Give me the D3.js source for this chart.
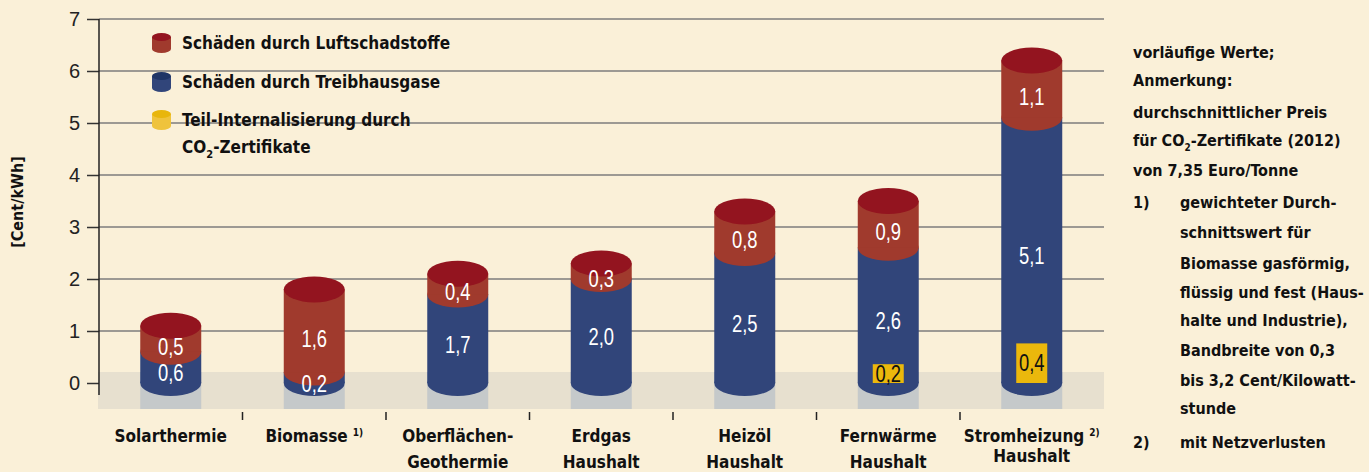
<!DOCTYPE html>
<html>
<head>
<meta charset="utf-8">
<script src="https://cdn.jsdelivr.net/npm/d3@7"></script>
<style>
  body { margin: 0; background: #faf0d8; }
  .bold { font-family: "DejaVu Sans Condensed", "Liberation Sans Narrow", Roboto, sans-serif; font-weight: bold; fill: #111; }
  .num { font-family: "Liberation Sans", Arial, sans-serif; }
</style>
</head>
<body>
<div id="chart"></div>
<script>
var categories = [["Solarthermie"], ["Biomasse"], ["Oberflächen-", "Geothermie"], ["Erdgas", "Haushalt"],
                  ["Heizöl", "Haushalt"], ["Fernwärme", "Haushalt"], ["Stromheizung", "Haushalt"]];
var footnoteMarks = ["", "1)", "", "", "", "", "2)"];
var treibhausgase = [0.6, 0.2, 1.7, 2.0, 2.5, 2.6, 5.1];
var luftschadstoffe = [0.5, 1.6, 0.4, 0.3, 0.8, 0.9, 1.1];
var zertifikate = [null, null, null, null, null, 0.2, 0.4];
var yTicks = [0, 1, 2, 3, 4, 5, 6, 7];
var legendItems = ["Schäden durch Luftschadstoffe", "Schäden durch Treibhausgase", "Teil-Internalisierung durch"];
var notes = ["vorläufige Werte;", "Anmerkung:", "durchschnittlicher Preis", "für CO|2|-Zertifikate (2012)",
             "von 7,35 Euro/Tonne"];
var footnote1 = ["gewichteter Durch-", "schnittswert für", "Biomasse gasförmig,", "flüssig und fest (Haus-",
                 "halte und Industrie),", "Bandbreite von 0,3", "bis 3,2 Cent/Kilowatt-", "stunde"];
var footnote2 = ["mit Netzverlusten"];

var w = 1369, h = 472;
var red = "#a03a2d", redTop = "#93141f", blue = "#31457a", blueTop = "#1f3566", yellow = "#ebb80c";

var svg = d3.select("#chart").append("svg").attr("width", w).attr("height", h);

var names = categories.map(function (d) { return d.join(" "); });
var x = d3.scaleBand().domain(names).range([99, 1103.5]).paddingInner(0.575).paddingOuter(0.2875);
var y = d3.scaleLinear().domain([0, 7]).range([383, 19]);
var ry = 13;
var fmt = function (v) { return d3.format(".1f")(v).replace(".", ","); };

// gridlines
svg.selectAll(".grid").data(yTicks.slice(1)).enter().append("line")
  .attr("x1", 99).attr("x2", 1104)
  .attr("y1", function (d) { return y(d); }).attr("y2", function (d) { return y(d); })
  .attr("stroke", "#7c7c7c").attr("stroke-width", 1.5);

// shaded band below zero
svg.append("rect").attr("x", 98).attr("y", y(0) - 11).attr("width", 1006).attr("height", 37).attr("fill", "#e7e0cf");

// y axis
var yAxis = d3.axisLeft(y).tickValues(yTicks).tickSize(12).tickPadding(7).tickFormat(d3.format("d"));
var ya = svg.append("g").attr("transform", "translate(99,0)").call(yAxis);
ya.select(".domain").remove();
ya.selectAll("line").attr("stroke", "#333").attr("stroke-width", 1.5);
ya.selectAll("text").attr("class", "num").style("font-size", "20px").attr("fill", "#222");
svg.append("line").attr("x1", 99).attr("x2", 99).attr("y1", y(7)).attr("y2", 395).attr("stroke", "#222").attr("stroke-width", 1.5);

svg.append("text").attr("class", "bold").attr("transform", "translate(23,202) rotate(-90)")
  .attr("text-anchor", "middle").style("font-size", "16px").text("[Cent/kWh]");

// category ticks at bottom
svg.selectAll(".ctick").data(names.slice(1)).enter().append("line")
  .attr("x1", function (d) { return x(d) - x.step() * x.paddingInner() / 2; })
  .attr("x2", function (d) { return x(d) - x.step() * x.paddingInner() / 2; })
  .attr("y1", 412).attr("y2", 420).attr("stroke", "#222").attr("stroke-width", 1.5);

var bw = x.bandwidth(), rx = bw / 2;

function cylinder(g, cx, y0, y1, side, top) {
  g.append("ellipse").attr("cx", cx).attr("cy", y0).attr("rx", rx).attr("ry", ry).attr("fill", side);
  g.append("rect").attr("x", cx - rx).attr("y", y1).attr("width", bw).attr("height", y0 - y1).attr("fill", side);
  if (top) g.append("ellipse").attr("cx", cx).attr("cy", y1).attr("rx", rx).attr("ry", ry).attr("fill", top);
}

// narrow number label (the original uses a condensed face)
function numLabel(g, cx, cy, txt, color) {
  g.append("text").attr("class", "num")
    .attr("transform", "translate(" + cx + "," + cy + ") scale(0.8,1)")
    .attr("dy", "0.35em").attr("text-anchor", "middle").attr("fill", color)
    .style("font-size", "23px").text(txt);
}

var bars = svg.selectAll(".bar").data(names).enter().append("g").attr("class", "bar");
bars.each(function (d, i) {
  var g = d3.select(this);
  var cx = x(d) + bw / 2;
  var b = treibhausgase[i], r = luftschadstoffe[i];
  g.append("rect").attr("x", cx - rx).attr("y", y(0) - 11).attr("width", bw).attr("height", 37).attr("fill", "#c5c9ca");
  cylinder(g, cx, y(0), y(b), blue, null);
  cylinder(g, cx, y(b), y(b + r), red, redTop);
  numLabel(g, cx, (y(0) + y(b)) / 2 + 6, fmt(b), "#fff");
  numLabel(g, cx, (y(b) + y(b + r)) / 2 + 8, fmt(r), "#fff");
  if (zertifikate[i] != null) {
    var v = zertifikate[i];
    var top = y(2 * v) + 2;
    g.append("rect").attr("x", cx - 15.5).attr("y", top).attr("width", 31).attr("height", y(0) - top).attr("fill", yellow);
    numLabel(g, cx, (top + y(0)) / 2, fmt(v), "#111");
  }
  var t = g.append("text").attr("class", "bold").attr("x", cx).attr("y", 442)
    .attr("text-anchor", "middle").style("font-size", "17px");
  categories[i].forEach(function (line, k) {
    t.append("tspan").attr("x", cx).attr("dy", k === 0 ? 0 : 26).text(line);
    if (k === 0 && footnoteMarks[i]) {
      t.append("tspan").attr("dx", 5).attr("dy", -6).style("font-size", "10px").text(footnoteMarks[i]);
      t.append("tspan").attr("dy", 6).text("");
    }
  });
});

// legend
var legColors = [[red, redTop], [blue, blueTop], ["#efc33c", "#e8b60c"]];
var leg = svg.selectAll(".leg").data(legendItems).enter().append("g").attr("class", "leg")
  .attr("transform", function (d, i) { return "translate(152," + [43, 82, 120][i] + ")"; });
leg.append("ellipse").attr("cx", 9.5).attr("cy", 6).attr("rx", 9.5).attr("ry", 4).attr("fill", function (d, i) { return legColors[i][0]; });
leg.append("rect").attr("x", 0).attr("y", -6).attr("width", 19).attr("height", 12).attr("fill", function (d, i) { return legColors[i][0]; });
leg.append("ellipse").attr("cx", 9.5).attr("cy", -6).attr("rx", 9.5).attr("ry", 4).attr("fill", function (d, i) { return legColors[i][1]; });
leg.append("text").attr("class", "bold").attr("x", 30).attr("dy", "0.35em").style("font-size", "17px").text(function (d) { return d; });
var co2 = svg.append("text").attr("class", "bold").attr("x", 182).attr("y", 147).attr("dy", "0.35em").style("font-size", "17px");
co2.append("tspan").text("CO");
co2.append("tspan").attr("dy", 5).style("font-size", "11px").text("2");
co2.append("tspan").attr("dy", -5).text("-Zertifikate");

// notes on the right
function noteLine(txt, xx, yy) {
  var t = svg.append("text").attr("class", "bold").attr("x", xx).attr("y", yy).attr("dy", "0.35em").style("font-size", "16px");
  var parts = txt.split("|");
  parts.forEach(function (p, k) {
    if (k === 1) { t.append("tspan").attr("dy", 5).style("font-size", "10px").text(p); }
    else if (k === 2) { t.append("tspan").attr("dy", -5).text(p); }
    else t.append("tspan").text(p);
  });
}
var noteY = [52, 80, 112, 140, 170];
notes.forEach(function (n, i) { noteLine(n, 1133, noteY[i]); });
noteLine("1)", 1133, 202);
var f1Y = [202, 232, 263, 292, 320, 350, 380, 408];
footnote1.forEach(function (n, i) { noteLine(n, 1180, f1Y[i]); });
noteLine("2)", 1133, 442);
noteLine(footnote2[0], 1180, 442);
</script>
</body>
</html>
